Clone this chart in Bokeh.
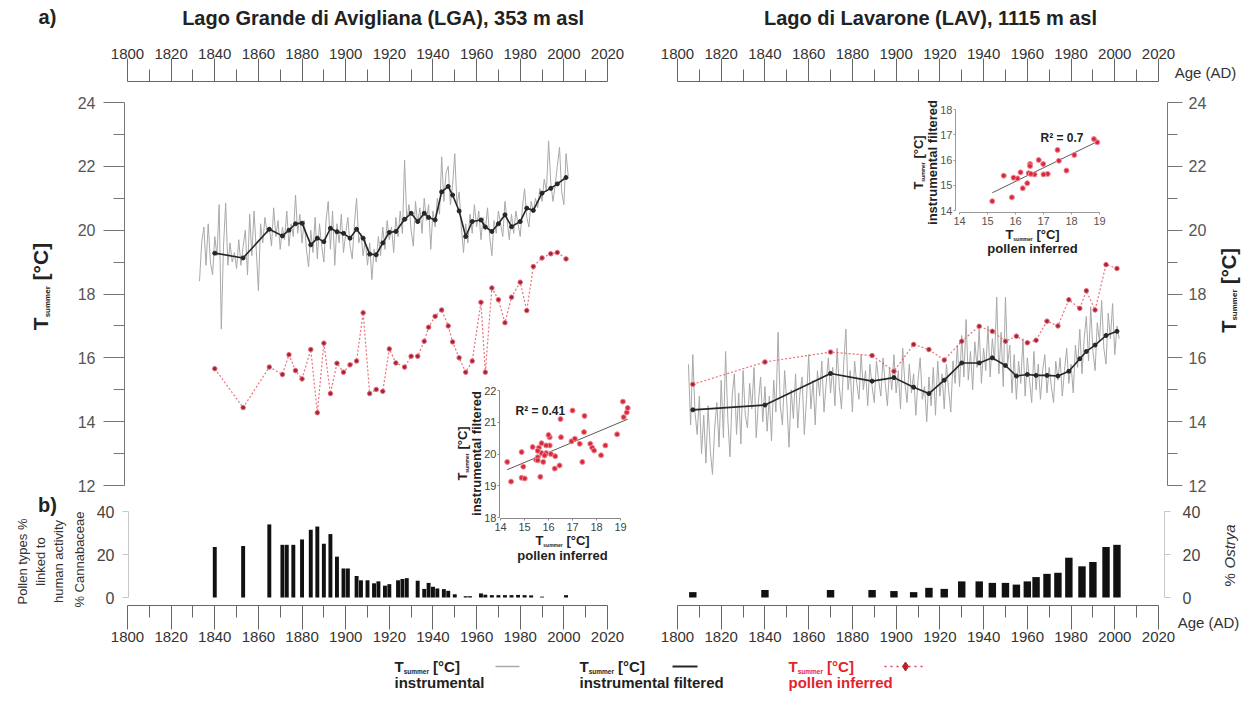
import numpy as np
from bokeh.plotting import figure
from bokeh.models import Range1d, LinearAxis, FixedTicker, Label
from bokeh.embed import file_html
from bokeh.resources import INLINE

# ---------------------------------------------------------------- data
lga_inst_first_year = 1833
lga_inst = [
    18.4, 19.6, 20.1, 18.9, 20.2, 19.0, 18.6, 19.8, 19.2, 20.8,
    16.9, 19.5, 20.85, 18.9, 19.6, 19.0, 19.3, 18.8, 19.7, 18.9,
    19.5, 20.0, 18.6, 20.5, 19.2, 20.6, 19.4, 18.1, 20.2, 19.6,
    20.4, 19.9, 20.1, 19.5, 20.7, 19.8, 20.3, 19.4, 20.1, 19.7,
    20.6, 19.5, 20.2, 19.8, 21.1, 19.9, 20.5, 19.6, 20.3, 19.4,
    18.85, 20.0, 19.3, 20.4, 19.1, 20.2, 19.5, 19.0, 20.3, 20.9,
    19.4, 20.6, 18.9, 20.2, 19.6, 20.5, 19.3, 19.9, 20.4, 19.5,
    19.1, 20.2, 21.0, 19.6, 19.9, 19.2, 19.7, 18.9, 19.6, 18.45,
    19.4, 19.0, 19.8, 19.2, 20.1, 19.4, 20.3, 19.7, 20.1, 19.3,
    20.4, 19.8, 20.6, 19.9, 22.2, 20.3, 20.8, 20.0, 19.5, 20.9,
    20.2, 20.7, 19.9, 21.0, 20.3, 20.8, 19.4, 20.6, 20.1, 21.0,
    20.5, 22.3, 20.9, 21.8, 22.0, 20.8, 21.4, 22.4, 20.8, 21.2,
    20.1, 19.3, 20.2, 19.6, 20.5, 19.9, 20.8, 20.1, 20.6, 19.7,
    20.4, 20.0, 20.7, 19.8, 19.2, 20.3, 19.9, 20.6, 20.2, 19.8,
    20.9, 20.3, 19.7, 20.5, 19.9, 20.6, 20.2, 19.8, 20.7, 21.3,
    20.4, 20.1, 20.9, 20.6, 21.0, 20.7, 21.3, 20.9, 21.6, 21.2,
    22.8, 21.5, 20.9, 21.4, 22.0, 22.6, 21.2, 20.8, 22.4, 21.7,
]
lav_inst_first_year = 1805
lav_inst = [
    15.8, 13.9, 16.1, 14.3, 13.6, 14.8, 13.0, 14.2, 12.7, 14.5,
    13.1, 12.35, 13.8, 14.6, 13.2, 15.3, 13.5, 16.2, 14.1, 12.9,
    14.8, 15.5, 13.6, 14.9, 13.3, 15.6, 14.2, 13.8, 15.2, 14.4,
    15.7, 13.5, 14.6, 15.4, 14.0, 15.1, 13.7, 14.8, 13.4, 15.3,
    14.3, 16.8, 14.5, 13.9, 15.6, 14.6, 13.2, 15.0, 14.1, 15.5,
    13.8, 14.9, 15.4, 13.6, 14.7, 16.1, 14.4, 15.3, 13.9, 15.6,
    14.8, 15.9, 14.3, 15.2, 16.0, 14.9, 15.7, 14.5, 16.3, 15.1,
    14.4, 15.8, 16.9, 15.0, 15.6, 14.3, 15.9, 15.2, 14.7, 16.1,
    15.0, 15.6, 14.5, 15.8, 15.1, 14.6, 15.9, 15.3, 14.8, 16.0,
    15.2, 14.5, 15.7, 15.0, 16.1, 14.9, 15.6, 14.4, 16.3, 15.2,
    14.6, 15.8, 14.9, 15.5, 14.2, 15.3, 16.0, 14.7, 15.1, 14.0,
    15.4, 14.5, 15.7, 14.2, 15.9, 14.8, 15.5, 14.4, 15.8, 15.0,
    14.3, 15.9, 15.2, 16.4, 15.1, 16.7, 15.4, 17.2, 15.3, 16.2,
    15.0, 16.5, 15.7, 16.9, 15.2, 16.3, 15.6, 17.0, 15.4, 16.6,
    15.9, 17.9, 15.5, 16.8, 15.1, 17.9, 15.8, 16.4, 14.9, 16.1,
    14.7, 15.9, 15.2, 16.6, 14.8, 16.0, 15.3, 14.6, 16.2, 15.0,
    15.8, 14.7, 15.6, 16.1, 14.9, 15.7, 15.1, 14.6, 15.9, 15.3,
    16.0, 14.8, 15.6, 16.3, 15.2, 15.8, 14.9, 16.4, 15.7, 16.9,
    15.5, 16.6, 17.3, 15.9, 17.6, 16.2, 15.6, 17.1, 16.5, 17.8,
    16.3, 15.8, 17.4, 16.6, 17.7, 16.1, 17.0, 16.6,
]

lga_years = [1840, 1853, 1865, 1871, 1874, 1877, 1880, 1884, 1887, 1890, 1893, 1896,
             1899, 1902, 1905, 1908, 1911, 1914, 1917, 1920, 1923, 1927, 1930, 1933,
             1936, 1938, 1941, 1944, 1947, 1949, 1952, 1955, 1958, 1962, 1964, 1967,
             1970, 1973, 1976, 1980, 1983, 1986, 1990, 1994, 1997, 2001]
lga_pollen = [15.66, 14.44, 15.71, 15.48, 16.10, 15.60, 15.34, 16.26, 14.28, 16.46, 14.88, 15.83,
              15.55, 15.78, 15.90, 17.41, 14.88, 15.01, 14.95, 16.28, 15.84, 15.71, 16.05, 16.05,
              16.52, 16.96, 17.30, 17.50, 17.00, 16.50, 16.00, 15.55, 15.90, 17.74, 15.55, 18.19,
              17.82, 17.10, 17.90, 18.37, 17.48, 18.86, 19.13, 19.26, 19.30, 19.10]
lga_filtered = [19.28, 19.13, 20.03, 19.82, 20.00, 20.20, 20.22, 19.54, 19.75, 19.64, 20.06, 19.95,
                19.90, 19.75, 20.03, 19.75, 19.25, 19.23, 19.60, 19.93, 19.96, 20.34, 20.53, 20.27,
                20.53, 20.40, 20.32, 21.20, 21.37, 21.10, 20.60, 19.80, 20.27, 20.32, 20.10, 19.96,
                20.20, 20.48, 20.11, 20.27, 20.69, 20.62, 21.16, 21.31, 21.45, 21.65]

lav_years = [1807, 1840, 1870, 1889, 1899, 1908, 1915, 1922, 1930, 1938, 1944, 1950,
             1955, 1960, 1964, 1969, 1974, 1979, 1984, 1987, 1991, 1996, 2001]
lav_pollen = [15.17, 15.87, 16.18, 16.07, 15.58, 16.42, 16.26, 15.93, 16.52, 16.99, 16.83, 16.52,
              16.68, 16.47, 16.55, 17.15, 17.00, 17.82, 17.55, 18.10, 17.50, 18.92, 18.80]
lav_filtered = [14.37, 14.52, 15.51, 15.27, 15.38, 15.08, 14.88, 15.30, 15.84, 15.84, 16.00, 15.76,
                15.43, 15.48, 15.45, 15.45, 15.43, 15.58, 15.97, 16.20, 16.40, 16.70, 16.83]

lga_bar_years = [1840, 1853, 1865, 1871, 1873, 1876, 1880, 1884, 1887, 1890, 1893, 1896, 1899,
                 1901, 1905, 1907, 1910, 1913, 1915, 1918, 1920, 1924, 1926, 1928, 1933, 1936,
                 1938, 1940, 1942, 1945, 1947, 1950, 1955, 1957, 1962, 1964, 1967, 1970, 1973,
                 1976, 1979, 1982, 1985, 1990, 2001]
lga_bar_pct = [23.5, 24.0, 34.0, 24.5, 24.5, 24.5, 27.0, 31.5, 33.0, 25.0, 29.5, 19.0, 13.5,
               13.5, 10.0, 8.0, 8.0, 6.6, 7.5, 5.5, 6.2, 8.0, 8.6, 9.0, 7.8, 4.0,
               6.8, 5.0, 4.2, 3.9, 3.1, 1.5, 0.6, 0.6, 1.9, 1.3, 1.1, 1.1, 1.1,
               1.1, 1.2, 1.1, 1.0, 0.4, 1.1]

lav_bar_years = [1807, 1840, 1870, 1889, 1899, 1908, 1915, 1922, 1930, 1938, 1944, 1950,
                 1955, 1960, 1964, 1969, 1974, 1979, 1985, 1990, 1996, 2001]
lav_bar_pct = [2.5, 3.5, 3.5, 3.5, 3.0, 2.5, 4.5, 4.0, 7.5, 7.5, 6.8, 6.8,
               6.0, 7.5, 9.5, 11.0, 11.5, 18.5, 14.5, 16.5, 23.5, 24.5]

year_ticks = [1800, 1820, 1840, 1860, 1880, 1900, 1920, 1940, 1960, 1980, 2000, 2020]
year_minor = [1810, 1830, 1850, 1870, 1890, 1910, 1930, 1950, 1970, 1990, 2010]
t_ticks = [12, 14, 16, 18, 20, 22, 24]
t_minor = [13, 15, 17, 19, 21, 23]
bar_ticks = [0, 20, 40]
inset1_x_ticks = [14, 15, 16, 17, 18, 19]
inset1_y_ticks = [18, 19, 20, 21, 22]
inset2_x_ticks = [14, 15, 16, 17, 18, 19]
inset2_y_ticks = [14, 15, 16, 17, 18]

lga_inst_years = list(range(lga_inst_first_year, lga_inst_first_year + len(lga_inst)))
lav_inst_years = list(range(lav_inst_first_year, lav_inst_first_year + len(lav_inst)))

# ---------------------------------------------------------------- canvas
W, H, OX, OY = 1241, 693, 8, 8
FONT = "Liberation Sans"


def x_map(d0, p0, d1, p1):
    k = (p1 - p0) / (d1 - d0)
    s = d0 - (p0 - OX) / k
    return Range1d(start=s, end=s + W / k), (lambda px: d0 + (px - p0) / k)


def y_map(d0, p0, d1, p1):
    k = (p0 - p1) / (d1 - d0)
    e = d0 + (p0 - OY) / k
    return Range1d(start=e - H / k, end=e), (lambda py: d0 + (p0 - py) / k)


lga_r, lga_inv = x_map(1800, 135, 2020, 615)
lav_r, lav_inv = x_map(1800, 685, 2020, 1166)
t_r, t_inv = y_map(12, 493, 24, 110)
bar_r, bar_inv = y_map(0, 605, 40, 519)
i1x_r, i1x_inv = x_map(14, 508, 19, 628)
i1y_r, i1y_inv = y_map(18, 525, 22, 398)
i2x_r, i2x_inv = x_map(14, 967, 19, 1107)
i2y_r, i2y_inv = y_map(14, 218, 18, 117)

p = figure(width=W, height=H, x_range=Range1d(OX, OX + W), y_range=Range1d(OY + H, OY),
           x_axis_type=None, y_axis_type=None, toolbar_location=None, output_backend="svg",
           min_border=0, outline_line_color=None)
p.background_fill_color = "white"
p.border_fill_color = "white"
p.extra_x_ranges = {"lga": lga_r, "lav": lav_r, "i1x": i1x_r, "i2x": i2x_r}
p.extra_y_ranges = {"t": t_r, "bar": bar_r, "i1y": i1y_r, "i2y": i2y_r}


def axis(side, xname, yname, loc, bounds, ticks, minor=(), size="15px", color="#333",
         line="#666", out=8, mout=4, standoff=4):
    ax = LinearAxis(x_range_name=xname, y_range_name=yname, fixed_location=loc, bounds=bounds,
                    ticker=FixedTicker(ticks=list(ticks), minor_ticks=list(minor)))
    ax.axis_line_color = line
    ax.major_tick_line_color = line
    ax.minor_tick_line_color = line
    ax.major_tick_out = out
    ax.major_tick_in = 0
    ax.minor_tick_out = mout
    ax.minor_tick_in = 0
    ax.major_label_text_font = FONT
    ax.major_label_text_font_size = size
    ax.major_label_text_color = color
    ax.major_label_standoff = standoff
    p.add_layout(ax, side)
    return ax


# time axes
axis("above", "lga", "t", t_inv(89), (1800, 2020), year_ticks, year_minor, out=23, mout=12, standoff=0)
axis("above", "lav", "t", t_inv(89), (1800, 2020), year_ticks, year_minor, out=23, mout=12, standoff=0)
axis("below", "lga", "bar", bar_inv(613), (1800, 2020), year_ticks, year_minor, out=24, mout=12, standoff=2)
axis("below", "lav", "bar", bar_inv(613), (1800, 2020), year_ticks, year_minor, out=24, mout=12, standoff=2)
# temperature axes
axis("left", "lga", "t", lga_inv(132), (12, 24), t_ticks, t_minor, size="16px", color="#555",
     line="#777", out=21, mout=11, standoff=8)
axis("right", "lav", "t", lav_inv(1175), (12, 24), t_ticks, t_minor, size="16px", color="#555",
     line="#777", out=15, mout=10, standoff=6)
# pollen % axes
axis("left", "lga", "bar", lga_inv(136), (0, 40), bar_ticks, size="16px", color="#444",
     line="#c8c8c8", out=6, standoff=8)
axis("right", "lav", "bar", lav_inv(1172), (0, 40), bar_ticks, size="16px", color="#444",
     line="#c8c8c8", out=6, standoff=12)
# inset axes
axis("left", "i1x", "i1y", i1x_inv(507), (18, 22), inset1_y_ticks, size="11px", color="#444",
     line="#888", out=2, standoff=1)
axis("below", "i1x", "i1y", i1y_inv(526), (14, 19), inset1_x_ticks, size="11px", color="#444",
     line="#888", out=2, standoff=2)
axis("left", "i2x", "i2y", i2x_inv(963), (14, 18), inset2_y_ticks, size="11px", color="#555",
     line="#999", out=2, standoff=1)
axis("below", "i2x", "i2y", i2y_inv(220), (14, 19), inset2_x_ticks, size="11px", color="#555",
     line="#999", out=2, standoff=2)

# ---------------------------------------------------------------- series
GREY, BLACK, RED_L, RED_M = "#a9a9a9", "#262626", "#e8606c", "#9e2436"
for xn, yrs, inst, yy, pol, fil in [("lga", lga_inst_years, lga_inst, lga_years, lga_pollen, lga_filtered),
                                    ("lav", lav_inst_years, lav_inst, lav_years, lav_pollen, lav_filtered)]:
    p.line(yrs, inst, x_range_name=xn, y_range_name="t", line_color=GREY, line_width=1)
    p.line(yy, pol, x_range_name=xn, y_range_name="t", line_color=RED_L, line_width=1.2,
           line_dash="2 2", line_alpha=0.9)
    p.line(yy, fil, x_range_name=xn, y_range_name="t", line_color=BLACK, line_width=1.6)
    p.scatter(yy, fil, x_range_name=xn, y_range_name="t", size=4, marker="circle",
              fill_color=BLACK, line_color=BLACK)
    p.scatter(yy, pol, x_range_name=xn, y_range_name="t", size=4.5, marker="circle",
              fill_color=RED_M, line_color="#e86a78", line_width=1)

p.vbar(x=lga_bar_years, top=lga_bar_pct, bottom=0, width=1.8, x_range_name="lga",
       y_range_name="bar", fill_color="#111111", line_color=None)
p.vbar(x=lav_bar_years, top=lav_bar_pct, bottom=0, width=3.4, x_range_name="lav",
       y_range_name="bar", fill_color="#111111", line_color=None)

# insets: pollen-inferred vs instrumental filtered
for xn, yn, pol, fil in [("i1x", "i1y", lga_pollen, lga_filtered), ("i2x", "i2y", lav_pollen, lav_filtered)]:
    slope, icpt = np.polyfit(pol, fil, 1)
    xs = [min(pol), max(pol)]
    p.line(xs, [slope * v + icpt for v in xs], x_range_name=xn, y_range_name=yn,
           line_color="#5a5a5a", line_width=1)
    p.scatter(pol, fil, x_range_name=xn, y_range_name=yn, size=5, marker="circle",
              fill_color="#d8283c", line_color="#f08a96", line_width=1)

# ---------------------------------------------------------------- texts


def txt(x, y, s, size=15, style="normal", color="#222", align="center", baseline="middle", angle=0.0):
    p.add_layout(Label(x=x, y=y, text=s, text_font=FONT, text_font_size=f"{size}px",
                       text_font_style=style, text_color=color, text_align=align,
                       text_baseline=baseline, angle=angle))


def tsummer(x, y, size, sub, color="#222", rotated=False, anchor="center"):
    wT, wS, wsp, wC = 0.611 * size, 3.889 * sub, 0.278 * size, 1.788 * size
    total = wT + wS + wsp + wC
    off = 0.0 if anchor == "left" else total / 2
    if not rotated:
        x0 = x - off
        txt(x0, y, "T", size, "bold", color, "left")
        txt(x0 + wT, y + size * 0.32, "summer", sub, "bold", color, "left")
        txt(x0 + wT + wS + wsp, y, "[°C]", size, "bold", color, "left")
    else:
        a = np.pi / 2
        y0 = y + off
        txt(x, y0, "T", size, "bold", color, "left", angle=a)
        txt(x + size * 0.32, y0 - wT, "summer", sub, "bold", color, "left", angle=a)
        txt(x, y0 - wT - wS - wsp, "[°C]", size, "bold", color, "left", angle=a)


txt(55, 24, "a)", 20, "bold")
txt(55, 512, "b)", 20, "bold")
txt(391, 25, "Lago Grande di Avigliana (LGA), 353 m asl", 20, "bold")
txt(938, 25, "Lago di Lavarone (LAV), 1115 m asl", 20, "bold")
txt(1213, 80, "Age (AD)", 15, color="#333")
txt(1216, 630, "Age (AD)", 15, color="#333")

tsummer(48, 294, 21, 8, rotated=True)
tsummer(1236, 298, 20, 8, rotated=True)

a90 = np.pi / 2
txt(30, 569, "Pollen types %", 13, color="#333", angle=a90)
txt(48, 569, "linked to", 13, color="#333", angle=a90)
txt(66, 569, "human activity", 13, color="#333", angle=a90)
txt(87, 567, "% Cannabaceae", 13, color="#333", angle=a90)
txt(1237, 594, "% ", 15, color="#333", align="left", angle=a90)
txt(1237, 576, "Ostrya", 15, "italic", "#333", align="left", angle=a90)

# inset texts
txt(523, 418, "R² = 0.41", 12, "bold", align="left")
tsummer(570, 548, 13, 5)
txt(570, 563, "pollen inferred", 13, "bold")
tsummer(470, 461, 13, 5, rotated=True)
txt(484, 461, "instrumental filtered", 13, "bold", angle=a90)

txt(1048, 145, "R² = 0.7", 12, "bold", align="left")
tsummer(1040, 242, 13, 5)
txt(1040, 256, "pollen inferred", 13, "bold")
tsummer(926, 170, 13, 5, rotated=True)
txt(940, 170, "instrumental filtered", 13, "bold", angle=a90)

# legend
RED_T = "#e3242b"
LY1, LY2 = 674, 690
tsummer(402, LY1, 15, 6.5, anchor="left")
txt(402, LY2, "instrumental", 15, "bold", align="left")
p.segment(x0=[503], y0=[LY1], x1=[527], y1=[LY1], line_color=GREY, line_width=1.5)
tsummer(587, LY1, 15, 6.5, anchor="left")
txt(587, LY2, "instrumental filtered", 15, "bold", align="left")
p.segment(x0=[680], y0=[LY1], x1=[705], y1=[LY1], line_color=BLACK, line_width=2)
tsummer(796, LY1, 15, 6.5, color=RED_T, anchor="left")
txt(796, LY2, "pollen inferred", 15, "bold", RED_T, align="left")
p.segment(x0=[892], y0=[LY1], x1=[934], y1=[LY1], line_color="#e04050", line_width=1.5, line_dash="2 4")
p.scatter(x=[913], y=[LY1], marker="diamond", size=9, fill_color="#c0202e", line_color="#c0202e")

open("out.html", "w").write(file_html(p, INLINE))
